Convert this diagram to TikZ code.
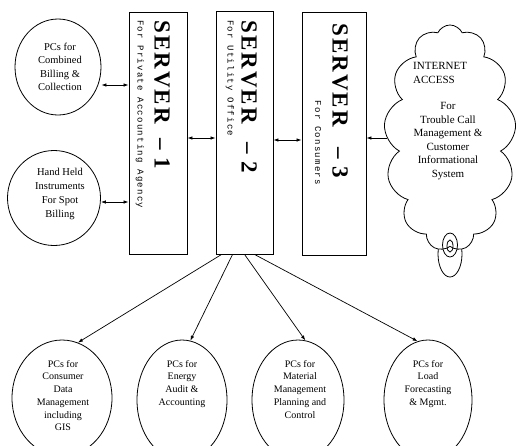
\documentclass[tikz,border=0pt]{standalone}
\usepackage{fontspec}
\setmainfont{Liberation Serif}
\newfontfamily\subfont[LetterSpace=14]{Liberation Mono}
\newfontfamily\titlefont[LetterSpace=10]{Liberation Serif}
\usetikzlibrary{arrows.meta,shapes.geometric,shapes.symbols,calc}
\begin{document}
\begin{tikzpicture}[x=1pt,y=-1pt,
  srv/.style={draw, line width=0.9pt, inner sep=0pt},
  ttl/.style={rotate=-90, inner sep=0pt, font=\titlefont\bfseries\fontsize{23}{23}\selectfont},
  sub/.style={rotate=-90, inner sep=0pt, font=\subfont\fontsize{9}{9}\selectfont},
  pc/.style={draw, ellipse, line width=0.8pt, inner sep=0pt},
  txt/.style={align=center, inner sep=0pt, font=\fontsize{10}{12.7}\selectfont},
  ctxt/.style={align=center, inner sep=0pt, font=\fontsize{11}{13.6}\selectfont},
  tip/.style={-{Latex[length=5pt,width=3.5pt]}, line width=0.7pt},
  dbl/.style={{Latex[length=5pt,width=3.5pt]}-{Latex[length=5pt,width=3.5pt]}, line width=0.7pt}
]
\useasboundingbox (0,0) rectangle (516,445);
\clip (0,0) rectangle (516,445);

% servers
\node[srv, minimum width=58pt, minimum height=242pt] (s1) at (158,133) {};
\node[srv, minimum width=57pt, minimum height=243pt] (s2) at (244.5,132.5) {};
\node[srv, minimum width=64pt, minimum height=243pt] (s3) at (334,133.5) {};

\node[ttl, anchor=west] (t1) at (162,20) {SERVER\hspace{14pt}–\hspace{8pt}1};
\node[ttl, anchor=west] (t2) at (249,20) {SERVER\hspace{18pt}–\hspace{8pt}2};
\node[ttl, anchor=west] (t3) at (340,23) {SERVER\hspace{20pt}–\hspace{8pt}3};

\node[sub, anchor=west] (u1) at (140,20) {For Private Accounting Agency};
\node[sub, anchor=west] (u2) at (230,20) {For Utility Office};
\node[sub, anchor=east] (u3) at (318,185) {For Consumers};

% left circles
\node[pc, minimum width=86pt, minimum height=96pt] (c1) at (58,67) {};
\node[txt, font=\fontsize{10.5}{13.3}\selectfont] (c1t) at (60,67) {PCs for\\Combined\\Billing \&\\Collection};
\node[pc, minimum width=93pt, minimum height=95pt] (c2) at (54,198) {};
\node[txt, font=\fontsize{10.5}{13.8}\selectfont] (c2t) at (60,194) {Hand Held\\Instruments\\For Spot\\Billing};

% bottom ellipses
\node[pc, minimum width=100pt, minimum height=116pt] (e1) at (62,398) {};
\node[pc, minimum width=90pt, minimum height=120pt] (e2) at (182,400) {};
\node[pc, minimum width=92pt, minimum height=120pt] (e3) at (298,400) {};
\node[pc, minimum width=88pt, minimum height=120pt] (e4) at (428,400) {};
\node[txt, anchor=north] (e1t) at (63,360) {PCs for\\Consumer\\Data\\Management\\including\\GIS};
\node[txt, anchor=north] (e2t) at (182,360) {PCs for\\Energy\\Audit \&\\Accounting};
\node[txt, anchor=north] (e3t) at (300,360) {PCs for\\Material\\Management\\Planning and\\Control};
\node[txt, anchor=north] (e4t) at (428,360) {PCs for\\Load\\Forecasting\\\& Mgmt.};

% cloud
\node[draw, ellipse, line width=0.8pt, minimum width=24pt, minimum height=46pt] (tail) at (450,254) {};
\node[cloud, draw, fill=white, line width=0.8pt, cloud puffs=13, cloud puff arc=130,
      cloud ignores aspect, minimum width=132pt, minimum height=226pt, inner sep=0pt] (cloud) at (450,138) {};
\node[draw, ellipse, line width=0.8pt, minimum width=15pt, minimum height=24pt, inner sep=0pt] (ring) at (450,245) {};
\node[draw, ellipse, line width=0.8pt, minimum width=6pt, minimum height=12pt, inner sep=0pt] (core) at (450,246) {};
\node[ctxt, anchor=north west, align=left] (ia) at (413,62) {INTERNET\\ACCESS};
\node[ctxt, anchor=north] (it) at (448,102) {For\\Trouble Call\\Management \&\\Customer\\Informational\\System};

% connectors
\coordinate (ya) at (0,85);
\coordinate (yb) at (0,202);
\coordinate (yc) at (0,138);
\coordinate (yd) at (0,140);
\draw[dbl] (c1.east |- ya) -- (s1.west |- ya);
\draw[dbl] (c2.east |- yb) -- (s1.west |- yb);
\draw[dbl] (s1.east |- yc) -- (s2.west |- yc);
\draw[dbl] (s2.east |- yd) -- (s3.west |- yd);
\draw[tip] (cloud.west |- yc) -- (s3.east |- yc);

\coordinate (b1) at ($(s2.south west)+(6,0)$);
\coordinate (b2) at ($(s2.south west)+(17,0)$);
\coordinate (b3) at ($(s2.south west)+(29,0)$);
\coordinate (b4) at ($(s2.south west)+(39,0)$);
\draw[tip] (b1) -- (e1.74);
\draw[tip] (b2) -- (e2.82);
\draw[tip] (b3) -- (e3.83);
\draw[tip] (b4) -- (e4.100);
\end{tikzpicture}
\end{document}
